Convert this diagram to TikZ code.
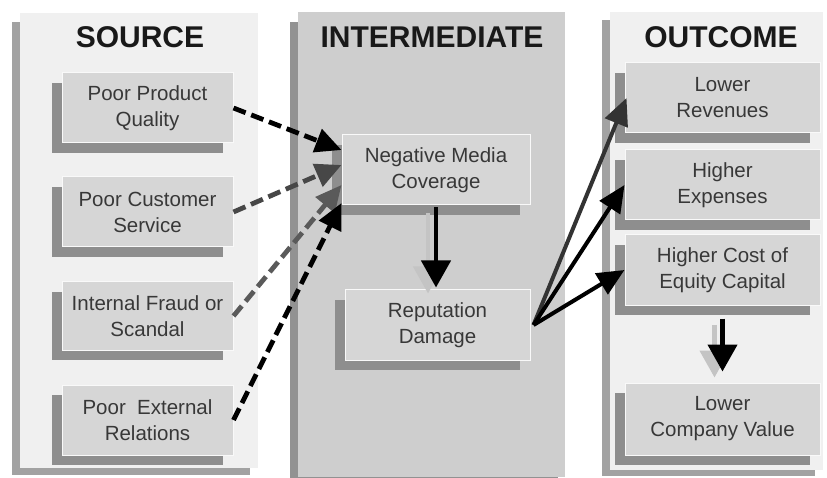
\documentclass[tikz,border=0pt]{standalone}
\usepackage{fontspec}
\setmainfont{Liberation Sans}
\usetikzlibrary{arrows.meta,shadows,calc}
\definecolor{panellight}{HTML}{F0F0F0}
\definecolor{paneldark}{HTML}{CECECE}
\definecolor{panelshade}{HTML}{A2A2A2}
\definecolor{boxfill}{HTML}{D6D6D6}
\definecolor{boxshade}{HTML}{8E8E8E}
\definecolor{boxtext}{HTML}{383838}
\definecolor{arrowgrey}{HTML}{474747}
\definecolor{arrowmid}{HTML}{5A5A5A}
\definecolor{ghost}{HTML}{C4C4C4}
\tikzset{
  factor/.style={
    rectangle, fill=boxfill, draw=white!85!boxfill, line width=1pt,
    text=boxtext, align=center,
    font=\fontsize{20.5}{26}\selectfont,
    general shadow={fill=boxshade, shadow xshift=-10pt, shadow yshift=-10pt}},
  srcbox/.style={factor, minimum width=171pt, minimum height=70pt},
  title/.style={font=\fontsize{30}{34}\selectfont\bfseries, text=black!90},
  dasharrow/.style={line width=4.8pt, dash pattern=on 13pt off 6pt,
    -{Triangle[length=26pt,width=24pt]}},
  solidarrow/.style={line width=4pt, -{Triangle[length=27pt,width=24pt]}},
  downarrow/.style={line width=4.5pt, -{Triangle[length=27pt,width=29pt]},
    preaction={draw=ghost, line width=4.5pt, transform canvas={xshift=-8pt, yshift=-6pt}}}
}
\begin{document}
\begin{tikzpicture}[x=1pt, y=-1pt]
  \useasboundingbox[fill=white] (0,0) rectangle (827,478);

  % column panels with their left/bottom shade
  \fill[panelshade] (12,22) rectangle (250,475);
  \fill[panellight] (20,13) rectangle (258,468);
  \fill[panelshade!90!black] (290,22) rectangle (558,478);
  \fill[paneldark] (298,12) rectangle (565,477);
  \fill[panelshade] (602,20) rectangle (815,476);
  \fill[panellight] (610,12) rectangle (823,470);

  % column headings
  \node[title] (tsrc) at (140,37) {SOURCE};
  \node[title] (tmid) at (432,37) {INTERMEDIATE};
  \node[title] (tout) at (721,37) {OUTCOME};

  % source factors
  \node[srcbox] (s1) at (147.5,108) {Poor Product\\Quality};
  \node[srcbox] (s2) at (147.5,212) {Poor Customer\\Service};
  \node[srcbox, minimum height=68pt] (s3) at (147.5,316) {Internal Fraud or\\Scandal};
  \node[srcbox] (s4) at (147.5,420) {Poor\ \ External\\Relations};

  % intermediate effects
  \node[factor, minimum width=188pt, minimum height=70pt] (neg) at (436,170) {Negative Media\\Coverage};
  \node[factor, minimum width=185pt, minimum height=70pt] (rep) at (437.5,325) {Reputation\\Damage};

  % outcomes
  \node[factor, minimum width=195pt, minimum height=70pt] (lr) at (722.5,98) {Lower\\Revenues};
  \node[factor, minimum width=195pt, minimum height=70pt] (he) at (722.5,185) {Higher\\Expenses};
  \node[factor, minimum width=195pt, minimum height=70pt] (hc) at (722.5,270) {Higher Cost of\\Equity Capital};
  \node[factor, minimum width=195pt, minimum height=72pt] (lv) at (722.5,419) {Lower\\Company Value};

  % sources feeding media coverage
  \draw[dasharrow, black] (s1.east) -- ([yshift=20pt]neg.west);
  \draw[dasharrow, arrowgrey] (s2.east) -- ([yshift=5pt]neg.west);
  \draw[dasharrow, arrowmid] (s3.east) -- ([yshift=-15pt]neg.west);
  \draw[dasharrow, black] (s4.east) -- ([yshift=-33pt]neg.west);

  % media coverage leads to reputation damage
  \draw[downarrow] ([yshift=-2pt]neg.south) -- ([yshift=2pt]neg.south |- rep.north);

  % reputation damage fans out to the outcomes
  \coordinate (fan) at ([xshift=3pt]rep.east);
  \draw[solidarrow, black!80] (fan) -- ([xshift=2pt]lr.west);
  \draw[solidarrow, black] (fan) -- (he.west);
  \draw[solidarrow, black] (fan) -- (hc.west);

  % cost of capital lowers company value
  \draw[downarrow] ([yshift=-13pt]hc.south) -- ([yshift=11pt]lv.north);
\end{tikzpicture}
\end{document}
